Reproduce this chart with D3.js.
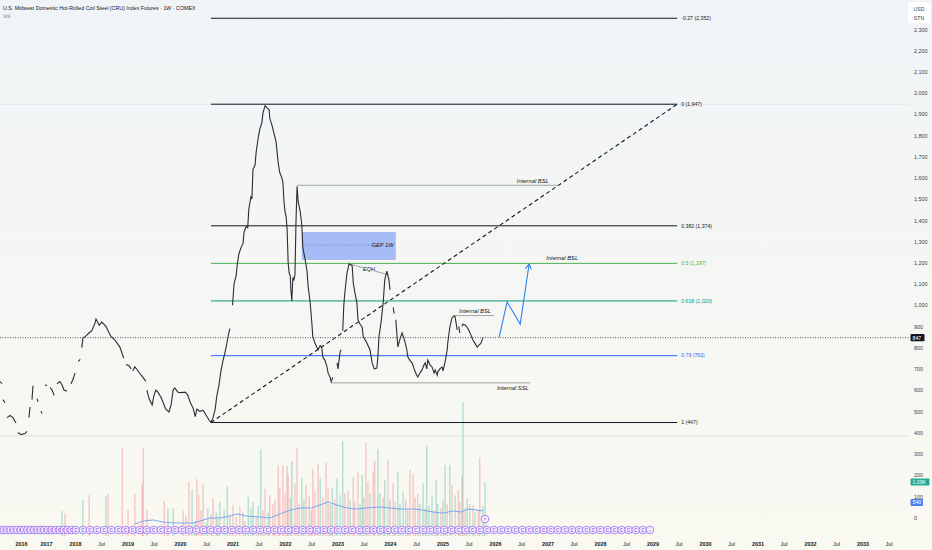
<!DOCTYPE html>
<html>
<head>
<meta charset="utf-8">
<script src="https://cdn.jsdelivr.net/npm/d3@7"></script>
<style>
  body { margin: 0; background: #f6f8f5; }
  svg { display: block; font-family: "Liberation Sans", "DejaVu Sans", Arial, sans-serif; }
</style>
</head>
<body>
<div id="chart"></div>
<script>
// ---- data (time as decimal year) ----
var title = "U.S. Midwest Domestic Hot-Rolled Coil Steel (CRU) Index Futures \u00b7 1W \u00b7 COMEX";

// weekly closes, null = gap in the series
var pricePath = [
  [2015.16,640],[2015.24,630],null,
  [2015.28,555],[2015.36,540],null,
  [2015.44,470],[2015.56,480],[2015.68,470],[2015.80,445],null,
  [2015.88,400],[2016.00,390],[2016.16,395],[2016.24,405],null,
  [2016.32,470],[2016.36,520],null,
  [2016.44,555],[2016.48,620],null,
  [2016.64,560],[2016.68,545],null,
  [2016.80,500],[2016.84,490],null,
  [2016.96,625],[2017.03,620],null,
  [2017.14,612],[2017.21,600],[2017.28,575],null,
  [2017.38,630],[2017.48,640],[2017.55,625],[2017.62,600],[2017.72,595],null,
  [2017.86,630],[2017.93,650],[2018.00,680],null,
  [2018.06,735],[2018.10,745],null,
  [2018.13,800],[2018.15,845],[2018.21,855],[2018.27,870],[2018.32,880],[2018.38,915],[2018.40,935],
  [2018.46,905],[2018.51,920],[2018.59,900],[2018.63,880],[2018.67,858],[2018.70,850],[2018.76,835],
  [2018.82,815],[2018.86,800],[2018.90,770],[2018.93,750],null,
  [2018.97,720],[2019.03,715],[2019.07,700],null,
  [2019.10,690],[2019.14,710],[2019.20,690],[2019.26,670],[2019.31,655],[2019.35,640],null,
  [2019.37,600],[2019.41,560],[2019.47,530],[2019.50,570],[2019.54,600],[2019.58,590],[2019.64,565],
  [2019.68,540],[2019.73,510],[2019.79,497],[2019.83,530],[2019.87,600],[2019.90,610],[2019.96,590],
  [2020.02,588],[2020.10,590],[2020.15,575],[2020.19,545],[2020.25,515],[2020.29,475],[2020.32,510],
  [2020.38,500],[2020.44,505],[2020.50,480],[2020.55,460],[2020.59,447],[2020.63,470],[2020.67,510],
  [2020.70,570],[2020.74,620],[2020.78,690],[2020.82,740],[2020.86,780],[2020.90,830],[2020.93,870],
  [2020.95,890],null,
  [2021.00,1000],[2021.03,1100],[2021.07,1140],[2021.09,1190],[2021.12,1240],[2021.16,1270],[2021.20,1290],
  [2021.22,1345],[2021.26,1370],[2021.29,1365],[2021.31,1450],[2021.35,1510],[2021.37,1500],[2021.39,1640],
  [2021.43,1660],[2021.45,1720],[2021.49,1790],[2021.52,1830],[2021.56,1860],[2021.58,1905],[2021.62,1940],
  [2021.66,1930],[2021.70,1920],[2021.71,1880],[2021.75,1850],[2021.79,1810],[2021.83,1770],[2021.85,1720],
  [2021.87,1670],[2021.90,1625],[2021.94,1600],[2021.96,1580],[2021.98,1490],[2022.00,1440],[2022.02,1420],
  [2022.04,1360],[2022.06,1200],[2022.08,1150],[2022.10,1140],[2022.11,1080],[2022.13,1020],[2022.15,1130],
  [2022.17,1120],[2022.19,1145],[2022.21,1400],[2022.23,1560],[2022.25,1490],[2022.29,1440],[2022.32,1380],
  [2022.34,1270],[2022.38,1220],[2022.42,1160],[2022.44,1090],[2022.48,1010],[2022.51,920],[2022.53,850],
  [2022.57,822],[2022.63,790],[2022.67,810],[2022.70,800],[2022.72,756],[2022.76,740],[2022.80,709],
  [2022.82,681],[2022.86,660],[2022.88,640],[2022.91,660],null,
  [2022.99,728],[2023.01,700],[2023.05,780],[2023.07,790],null,
  [2023.10,880],[2023.12,1000],[2023.14,1060],[2023.18,1150],[2023.22,1195],[2023.28,1185],[2023.30,1105],
  [2023.33,1060],[2023.37,1011],[2023.39,931],[2023.43,910],[2023.47,897],[2023.49,851],[2023.52,840],
  [2023.56,822],[2023.62,789],[2023.66,728],[2023.70,700],[2023.75,704],[2023.77,760],[2023.79,851],
  [2023.83,920],[2023.87,1011],[2023.90,1119],[2023.94,1160],[2023.98,1119],[2024.00,1072],null,
  [2024.06,990],[2024.08,960],null,
  [2024.11,931],[2024.15,803],[2024.19,840],[2024.23,869],[2024.27,840],[2024.29,822],[2024.32,790],
  [2024.34,756],[2024.38,740],[2024.42,728],[2024.46,700],[2024.48,686],[2024.51,670],[2024.53,662],
  [2024.57,680],[2024.61,695],[2024.65,720],[2024.67,728],[2024.70,700],[2024.72,742],[2024.76,720],
  [2024.80,709],[2024.84,680],[2024.86,695],[2024.90,670],[2024.91,686],[2024.95,700],[2024.99,709],
  [2025.01,690],[2025.05,733],[2025.09,790],[2025.10,822],[2025.14,897],[2025.18,940],[2025.22,950],
  [2025.24,945],[2025.28,883],null,
  [2025.31,900],[2025.33,869],null,
  [2025.37,900],[2025.39,910],[2025.43,907],[2025.47,895],[2025.50,883],[2025.54,860],[2025.58,836],
  [2025.62,820],[2025.66,803],[2025.70,813],[2025.73,820],[2025.77,847]
];
var lastPrice = 847;

// volume bars: [time, volume, 1 = up / 0 = down]
var volBars = [
  [2017.55,117,1],[2017.66,106,0],[2018.15,168,1],[2018.27,192,0],[2018.59,184,1],[2018.63,198,0],
  [2018.90,413,0],[2019.01,121,0],[2019.14,198,0],[2019.28,246,0],[2019.30,413,0],[2019.37,121,0],
  [2019.70,164,0],[2019.77,129,1],[2019.87,129,1],[2020.06,117,0],[2020.11,90,0],[2020.17,254,0],
  [2020.23,215,1],[2020.29,70,1],[2020.32,266,0],[2020.36,192,0],[2020.40,120,0],[2020.44,238,0],
  [2020.50,60,1],[2020.53,129,1],[2020.59,100,0],[2020.63,176,0],[2020.69,110,1],[2020.72,80,0],
  [2020.76,160,1],[2020.84,120,1],[2020.90,231,1],[2020.95,100,1],[2021.01,145,0],[2021.07,90,0],
  [2021.14,137,0],[2021.20,110,1],[2021.24,70,0],[2021.30,184,1],[2021.35,130,1],[2021.39,160,1],
  [2021.45,90,0],[2021.49,140,1],[2021.54,405,1],[2021.58,120,0],[2021.62,223,0],[2021.68,110,1],
  [2021.71,192,0],[2021.77,150,0],[2021.81,170,0],[2021.87,332,0],[2021.90,223,0],[2021.96,332,0],
  [2022.00,200,0],[2022.04,329,0],[2022.06,285,0],[2022.10,180,1],[2022.13,350,1],[2022.19,246,0],
  [2022.23,413,0],[2022.27,150,0],[2022.32,269,1],[2022.36,170,1],[2022.40,238,0],[2022.46,190,0],
  [2022.50,120,1],[2022.53,313,0],[2022.57,210,0],[2022.63,340,0],[2022.67,269,1],[2022.72,180,0],
  [2022.78,344,0],[2022.82,223,0],[2022.86,150,1],[2022.90,223,1],[2022.95,170,0],[2022.99,269,1],
  [2023.05,190,1],[2023.10,444,1],[2023.14,200,0],[2023.20,215,0],[2023.24,170,1],[2023.30,277,0],
  [2023.33,160,0],[2023.39,301,0],[2023.43,150,1],[2023.47,285,1],[2023.50,180,0],[2023.54,436,0],
  [2023.58,254,0],[2023.62,200,1],[2023.68,301,0],[2023.71,352,0],[2023.77,405,1],[2023.81,199,1],
  [2023.87,180,0],[2023.90,262,1],[2023.96,355,0],[2024.00,170,1],[2024.06,246,0],[2024.10,160,0],
  [2024.15,301,1],[2024.19,150,1],[2024.25,207,1],[2024.30,170,0],[2024.34,120,1],[2024.38,308,0],
  [2024.44,293,0],[2024.48,180,0],[2024.53,199,0],[2024.57,150,1],[2024.63,246,1],[2024.67,130,0],
  [2024.70,422,1],[2024.74,140,1],[2024.80,192,1],[2024.84,120,0],[2024.88,262,1],[2024.91,150,1],
  [2024.97,130,0],[2025.01,170,1],[2025.05,332,1],[2025.09,150,0],[2025.14,329,1],[2025.18,238,0],
  [2025.24,190,1],[2025.30,215,0],[2025.33,160,0],[2025.37,282,0],[2025.39,625,1],[2025.43,130,0],
  [2025.47,176,1],[2025.52,150,1],[2025.58,145,0],[2025.62,110,1],[2025.68,120,0],[2025.71,366,0],
  [2025.77,140,1],[2025.81,251,1]
];

// volume moving average
var volMA = [
  [2019.14,56],[2019.30,70],[2019.49,75],[2019.68,65],[2019.87,61],[2020.13,61],[2020.25,61],
  [2020.38,70],[2020.57,84],[2020.76,84],[2020.95,93],[2021.09,103],[2021.28,93],[2021.52,89],
  [2021.71,84],[2021.90,103],[2022.10,121],[2022.29,131],[2022.51,131],[2022.67,145],[2022.82,159],
  [2022.99,145],[2023.18,131],[2023.37,126],[2023.56,131],[2023.81,136],[2024.00,131],[2024.19,126],
  [2024.44,126],[2024.63,121],[2024.82,112],[2025.01,107],[2025.20,117],[2025.37,112],[2025.47,126],
  [2025.66,121],[2025.77,117]
];

// fibonacci retracement
var fibHigh = 1947, fibLow = 447;
var fibStart = 2020.59, fibEnd = 2029.47;
var fibLevels = [-0.27, 0, 0.382, 0.5, 0.618, 0.79, 1];
var fibColors = ["#131722", "#131722", "#131722", "#4caf50", "#089981", "#2962ff", "#131722"];

// drawings
var gepBox = { t0: 2022.32, t1: 2024.11, top: 1345, bottom: 1213, mid: 1283, label: "GEP 1W" };
var levelLines = [
  { t0: 2022.23, t1: 2027.24, price: 1565, label: "Internal BSL", pos: "above", at: 2026.72 },
  { t0: 2025.24, t1: 2025.98, price: 951, label: "Internal BSL", pos: "above", at: 2025.62 },
  { t0: 2022.88, t1: 2026.67, price: 634, label: "Internal SSL", pos: "below", at: 2026.34 }
];
var eqh = [[2023.22, 1195], [2023.98, 1142]];
var bslNote = { at: 2027.28, price: 1197, label: "Internal BSL" };
var projection = [[2026.08, 850], [2026.23, 1015], [2026.48, 911], [2026.65, 1194]];

// axes
var priceTicks = [400,500,600,700,800,900,1000,1100,1200,1300,1400,1500,1600,1700,1800,1900,2000,2100,2200,2300];
var volTicks = [0, 100, 200, 300];
var yearTicks = [2016,2017,2018,2019,2020,2021,2022,2023,2024,2025,2026,2027,2028,2029,2030,2031,2032,2033];
var julTicks = [2018,2019,2020,2021,2022,2023,2024,2025,2026,2027,2028,2029,2030,2031,2032,2033];
var volLast = "1.09K", volMALast = "540";
var rollFirst = 2015.18, rollLast = 2028.95, rollStep = 0.135; // contract-roll event row
var eventMark = 2025.81;

// ---- layout ----
var W = 932, H = 550;
var paneRight = 909, priceBottom = 436, volBottom = 536;

var svg = d3.select("#chart").append("svg")
  .attr("width", W).attr("height", H);

var defs = svg.append("defs");
var grad = defs.append("linearGradient").attr("id", "bg")
  .attr("x1", 0).attr("y1", 0).attr("x2", 0).attr("y2", 1);
grad.append("stop").attr("offset", "0%").attr("stop-color", "#f1f4f7");
grad.append("stop").attr("offset", "100%").attr("stop-color", "#f9f9f1");
defs.append("clipPath").attr("id", "pane")
  .append("rect").attr("width", paneRight).attr("height", priceBottom);

svg.append("rect").attr("width", W).attr("height", H).attr("fill", "url(#bg)");

// scales
var x = d3.scaleLinear().domain([2016, 2017, 2018, 2034]).range([21, 46, 75, 915]);
var y = d3.scaleLinear().domain([400, 2300]).range([432.5, 29.3]);
var yVolAxis = d3.scaleLinear().domain([0, 300]).range([518, 453.7]);
var yVol = d3.scaleLinear().domain([0, 100]).range([volBottom, volBottom - 21.4]);

// pane separator
svg.append("line").attr("x1", 0).attr("x2", paneRight)
  .attr("y1", priceBottom).attr("y2", priceBottom)
  .attr("stroke", "#e0e3eb").attr("stroke-width", 1);

// ---- volume pane ----
var vol = svg.append("g");
vol.selectAll("line.bar").data(volBars).enter().append("line")
  .attr("class", "bar")
  .attr("x1", d => x(d[0])).attr("x2", d => x(d[0]))
  .attr("y1", volBottom).attr("y2", d => yVol(d[1]))
  .attr("stroke", d => d[2] ? "rgba(8,153,129,0.3)" : "rgba(242,54,69,0.28)")
  .attr("stroke-width", 1.3);

vol.append("path").datum(volMA)
  .attr("fill", "none").attr("stroke", "#6f9df2").attr("stroke-width", 0.9)
  .attr("d", d3.line().x(d => x(d[0])).y(d => yVol(d[1])));

// ---- price pane ----
var pane = svg.append("g").attr("clip-path", "url(#pane)");

// faint ray at the fib top
pane.append("line").attr("x1", 0).attr("x2", paneRight)
  .attr("y1", y(fibHigh)).attr("y2", y(fibHigh))
  .attr("stroke", "#dde1e7").attr("stroke-width", 0.8);

// fib levels
var fibs = fibLevels.map(function(l, i) {
  return { level: l, price: fibHigh - l * (fibHigh - fibLow), color: fibColors[i] };
});
pane.selectAll("line.fib").data(fibs).enter().append("line")
  .attr("class", "fib")
  .attr("x1", x(fibStart)).attr("x2", x(fibEnd))
  .attr("y1", d => y(d.price)).attr("y2", d => y(d.price))
  .attr("stroke", d => d.color).attr("stroke-width", 1);
pane.selectAll("text.fib").data(fibs).enter().append("text")
  .attr("class", "fib")
  .attr("x", x(fibEnd) + 4).attr("y", d => y(d.price) + 1.8)
  .attr("font-size", 5.2).attr("fill", d => d.color)
  .text(d => d.level + " (" + d3.format(",")(Math.round(d.price)) + ")");

// trend diagonal
pane.append("line")
  .attr("x1", x(fibStart)).attr("y1", y(fibLow))
  .attr("x2", x(fibEnd)).attr("y2", y(fibHigh))
  .attr("stroke", "#131722").attr("stroke-width", 1.1).attr("stroke-dasharray", "4,3");

// GEP box
pane.append("rect")
  .attr("x", x(gepBox.t0)).attr("y", y(gepBox.top))
  .attr("width", x(gepBox.t1) - x(gepBox.t0)).attr("height", y(gepBox.bottom) - y(gepBox.top))
  .attr("fill", "#a7bcf6");
pane.append("line")
  .attr("x1", x(gepBox.t0)).attr("x2", x(gepBox.t1) - 24)
  .attr("y1", y(gepBox.mid)).attr("y2", y(gepBox.mid))
  .attr("stroke", "#6d8ad8").attr("stroke-width", 0.8).attr("stroke-dasharray", "1.5,1.5");
pane.append("text")
  .attr("x", x(gepBox.t1) - 2).attr("y", y(gepBox.mid) + 2)
  .attr("text-anchor", "end").attr("font-size", 5.8).attr("font-style", "italic")
  .attr("fill", "#131722").text(gepBox.label);

// liquidity lines
levelLines.forEach(function(l) {
  pane.append("line")
    .attr("x1", x(l.t0)).attr("x2", x(l.t1))
    .attr("y1", y(l.price)).attr("y2", y(l.price))
    .attr("stroke", "#8a8d96").attr("stroke-width", 0.8);
  pane.append("text")
    .attr("x", x(l.at)).attr("y", y(l.price) + (l.pos === "above" ? -2.5 : 7.5))
    .attr("text-anchor", "middle").attr("font-size", 5.8).attr("font-style", "italic")
    .attr("fill", "#131722").text(l.label);
});

// EQH
pane.append("line")
  .attr("x1", x(eqh[0][0])).attr("y1", y(eqh[0][1]))
  .attr("x2", x(eqh[1][0])).attr("y2", y(eqh[1][1]))
  .attr("stroke", "#8a8d96").attr("stroke-width", 0.8);
var eqhMid = [(eqh[0][0] + eqh[1][0]) / 2, (eqh[0][1] + eqh[1][1]) / 2];
pane.append("rect")
  .attr("x", x(eqhMid[0]) - 5).attr("y", y(eqhMid[1]) - 3)
  .attr("width", 10).attr("height", 6).attr("fill", "#f4f6f5");
pane.append("text")
  .attr("x", x(eqhMid[0])).attr("y", y(eqhMid[1]) + 2)
  .attr("text-anchor", "middle").attr("font-size", 5.6).attr("font-style", "italic")
  .attr("fill", "#131722").text("EQH");

pane.append("text")
  .attr("x", x(bslNote.at)).attr("y", y(bslNote.price) - 3)
  .attr("text-anchor", "middle").attr("font-size", 5.8).attr("font-style", "italic")
  .attr("fill", "#131722").text(bslNote.label);

// current price
pane.append("line")
  .attr("x1", 0).attr("x2", paneRight)
  .attr("y1", y(lastPrice)).attr("y2", y(lastPrice))
  .attr("stroke", "#2a2e39").attr("stroke-width", 0.8).attr("stroke-dasharray", "1,1.5");

// price series
pane.append("path").datum(pricePath)
  .attr("fill", "none").attr("stroke", "#2a2d36").attr("stroke-width", 1.1)
  .attr("stroke-linejoin", "miter")
  .attr("d", d3.line().defined(d => d !== null).x(d => x(d[0])).y(d => y(d[1])));

// projection path with arrow head
var proj = projection.map(d => [x(d[0]), y(d[1])]);
pane.append("path")
  .attr("fill", "none").attr("stroke", "#2f7ef0").attr("stroke-width", 1.1)
  .attr("d", d3.line()(proj));
var tip = proj[proj.length - 1], prev = proj[proj.length - 2];
var ang = Math.atan2(tip[1] - prev[1], tip[0] - prev[0]);
var head = [ang - 2.6, ang + 2.6].map(a => [tip[0] + 6 * Math.cos(a), tip[1] + 6 * Math.sin(a)]);
pane.append("path")
  .attr("fill", "none").attr("stroke", "#2f7ef0").attr("stroke-width", 1.1)
  .attr("d", d3.line()([head[0], tip, head[1]]));

// ---- event rows ----
var rolls = d3.range(rollFirst, rollLast + 0.001, rollStep);
var ev = svg.append("g");
var roll = ev.selectAll("g.roll").data(rolls).enter().append("g")
  .attr("transform", d => "translate(" + x(d) + ",530)");
roll.append("circle").attr("r", 3.8)
  .attr("fill", "#f2ecfe").attr("stroke", "#a27af0").attr("stroke-width", 0.9);
roll.append("text").attr("text-anchor", "middle").attr("y", 1.6)
  .attr("font-size", 4.6).attr("font-weight", "bold").attr("fill", "#9b6cf0")
  .text((d, i) => i === rolls.length - 1 ? "\u203a" : "C");

var evg = ev.append("g").attr("transform", "translate(" + x(eventMark) + ",519)");
evg.append("circle").attr("r", 3.8)
  .attr("fill", "#f6f2fe").attr("stroke", "#a27af0").attr("stroke-width", 0.9);
evg.append("path").attr("d", "M0.8,-2.3 L-1.2,0.3 L0.2,0.3 L-0.8,2.4 L1.3,-0.5 L-0.1,-0.5 Z")
  .attr("fill", "#9b6cf0");

// ---- axes ----
var fmt = d3.format(",");
var yAx = svg.append("g").attr("transform", "translate(910,0)")
  .call(d3.axisRight(y).tickValues(priceTicks).tickSize(0).tickPadding(4).tickFormat(fmt));
yAx.select(".domain").remove();
yAx.selectAll("text").attr("font-size", 5.4).attr("fill", "#3b3f4a")
  .attr("font-family", "Liberation Sans, DejaVu Sans, sans-serif");

var vAx = svg.append("g").attr("transform", "translate(910,0)")
  .call(d3.axisRight(yVolAxis).tickValues(volTicks).tickSize(0).tickPadding(4));
vAx.select(".domain").remove();
vAx.selectAll("text").attr("font-size", 5.4).attr("fill", "#3b3f4a")
  .attr("font-family", "Liberation Sans, DejaVu Sans, sans-serif");

var xTicks = yearTicks.concat(julTicks.map(t => t + 0.496));
var xAx = svg.append("g").attr("transform", "translate(0,540)")
  .call(d3.axisBottom(x).tickValues(xTicks).tickSize(0).tickPadding(2)
    .tickFormat(d => Number.isInteger(d) ? String(d) : "Jul"));
xAx.select(".domain").remove();
xAx.selectAll("text").attr("font-size", 5.4).attr("fill", "#131722")
  .attr("font-family", "Liberation Sans, DejaVu Sans, sans-serif")
  .attr("font-weight", d => Number.isInteger(d) ? "bold" : "normal");

// price axis badges
function badge(yy, text, bg, w) {
  svg.append("rect").attr("x", 910.5).attr("y", yy - 3.6).attr("width", w).attr("height", 7.2)
    .attr("rx", 1).attr("fill", bg);
  svg.append("text").attr("x", 912.5).attr("y", yy + 1.9).attr("font-size", 5.2)
    .attr("fill", "#fff").text(text);
}
badge(y(lastPrice), String(lastPrice), "#131722", 14);
badge(482, volLast, "#22ab94", 19);
badge(502.5, volMALast, "#4d7ff2", 12.5);

// currency box
svg.append("rect").attr("x", 908).attr("y", 2).attr("width", 22).attr("height", 21)
  .attr("rx", 1.5).attr("fill", "#ffffff");
svg.append("text").attr("x", 919).attr("y", 10.5).attr("text-anchor", "middle")
  .attr("font-size", 5.2).attr("fill", "#3b3f4a").text("USD");
svg.append("text").attr("x", 919).attr("y", 20).attr("text-anchor", "middle")
  .attr("font-size", 5.2).attr("fill", "#3b3f4a").text("STN");

// header
svg.append("text").attr("x", 3).attr("y", 9.5).attr("font-size", 5.3)
  .attr("fill", "#131722").text(title);
svg.append("text").attr("x", 3).attr("y", 17.5).attr("font-size", 5.2)
  .attr("fill", "#787b86").text("Vol");
</script>
</body>
</html>
